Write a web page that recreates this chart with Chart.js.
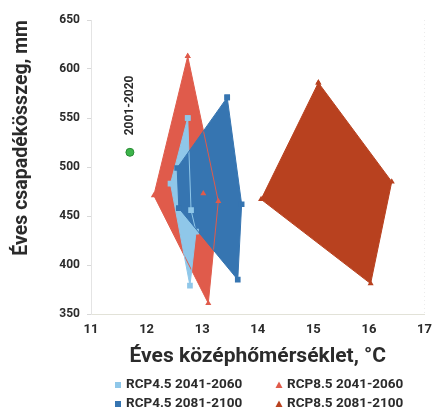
<!DOCTYPE html>
<html><head><meta charset="utf-8">
<script src="https://cdn.jsdelivr.net/npm/chart.js@4.4.1/dist/chart.umd.min.js"></script>
<style>html,body{margin:0;padding:0;background:#fff}#wrap{width:440px;height:412px;position:relative}</style>
</head><body><div id="wrap"><canvas id="c" width="440" height="412"></canvas></div>
<script>
const xTicks = [11, 12, 13, 14, 15, 16, 17];
const yTicks = [350, 400, 450, 500, 550, 600, 650];
const xTitle = 'Éves középhőmérséklet, °C';
const yTitle = 'Éves csapadékösszeg, mm';
const seriesNames = ['RCP4.5 2041-2060', 'RCP4.5 2081-2100', 'RCP8.5 2041-2060', 'RCP8.5 2081-2100'];
const rcp45_2041_temp = [12.74, 12.80, 12.89, 12.78, 12.43];
const rcp45_2041_prec = [550, 456, 434, 379, 483];
const rcp45_2081_temp = [13.45, 13.71, 13.64, 12.58, 12.55];
const rcp45_2081_prec = [571, 462, 385, 458, 499];
const rcp85_2041_temp = [12.74, 13.29, 13.11, 12.13];
const rcp85_2041_prec = [613, 465, 361, 471];
const rcp85_2041_inner_temp = [13.02];
const rcp85_2041_inner_prec = [473];
const rcp85_2081_temp = [15.09, 16.41, 16.03, 14.06];
const rcp85_2081_prec = [586, 485, 381, 467];
const base_temp = [11.70];
const base_prec = [515];
const baseLabel = '2001-2020';

const COLORS = {
  lb: '#8fc7e9', db: '#3675b1', lr: '#e05b4b', dr: '#b8411f', green: '#3cb44a'
};
const FONT = 'Roboto, "Open Sans", sans-serif';
const TXT = '#2b2b2b';

function poly(ts, ps) {
  const d = ts.map((t, i) => ({x: t, y: ps[i]}));
  d.push({x: ts[0], y: ps[0]});
  return d;
}
function pts(ts, ps) { return ts.map((t, i) => ({x: t, y: ps[i]})); }

function polyDs(label, data, color, style, r) {
  return {
    label, data, showLine: true, fill: 'shape', tension: 0,
    backgroundColor: color, borderColor: color, borderWidth: 1,
    pointStyle: style, pointRadius: r, pointBackgroundColor: color, pointBorderColor: color, pointBorderWidth: 0
  };
}

const datasets = [
  {label: baseLabel, data: pts(base_temp, base_prec), pointRadius: 4, pointBackgroundColor: COLORS.green,
   pointBorderColor: '#2a8c36', pointBorderWidth: 1, showLine: false},
  polyDs(seriesNames[3], poly(rcp85_2081_temp, rcp85_2081_prec), COLORS.dr, 'triangle', 3.5),
  {label: seriesNames[2] + ' inner', data: pts(rcp85_2041_inner_temp, rcp85_2041_inner_prec), showLine: false,
   pointStyle: 'triangle', pointRadius: 3.5, pointBackgroundColor: COLORS.lr, pointBorderWidth: 0},
  polyDs(seriesNames[1], poly(rcp45_2081_temp, rcp45_2081_prec), COLORS.db, 'rect', 4),
  polyDs(seriesNames[0], poly(rcp45_2041_temp, rcp45_2041_prec), COLORS.lb, 'rect', 4),
  polyDs(seriesNames[2], poly(rcp85_2041_temp, rcp85_2041_prec), COLORS.lr, 'triangle', 3.5)
];

const annot = {
  id: 'annot',
  afterDatasetsDraw(chart) {
    const ctx = chart.ctx;
    const x = chart.scales.x.getPixelForValue(base_temp[0]);
    const y = chart.scales.y.getPixelForValue(base_prec[0]);
    ctx.save();
    ctx.translate(x, y - 17);
    ctx.rotate(-Math.PI / 2);
    ctx.font = 'bold 12px ' + FONT;
    ctx.fillStyle = TXT;
    ctx.textAlign = 'left';
    ctx.textBaseline = 'middle';
    ctx.fillText(baseLabel, 0, 0);
    ctx.restore();
  },
  afterDraw(chart) {
    const ctx = chart.ctx;
    const items = [
      {text: seriesNames[0], color: COLORS.lb, style: 'rect', col: 0, row: 0},
      {text: seriesNames[2], color: COLORS.lr, style: 'triangle', col: 1, row: 0},
      {text: seriesNames[1], color: COLORS.db, style: 'rect', col: 0, row: 1},
      {text: seriesNames[3], color: COLORS.dr, style: 'triangle', col: 1, row: 1}
    ];
    const colX = [118, 279];
    const rowY = [385, 404];
    ctx.save();
    ctx.font = 'bold 13.5px ' + FONT;
    ctx.textBaseline = 'middle';
    ctx.textAlign = 'left';
    items.forEach(it => {
      const mx = colX[it.col], my = rowY[it.row];
      ctx.fillStyle = it.color;
      if (it.style === 'rect') {
        ctx.fillRect(mx - 3, my - 3, 6, 6);
      } else {
        ctx.beginPath();
        ctx.moveTo(mx, my - 3.5);
        ctx.lineTo(mx + 3.5, my + 3);
        ctx.lineTo(mx - 3.5, my + 3);
        ctx.closePath();
        ctx.fill();
      }
      ctx.fillStyle = TXT;
      ctx.fillText(it.text, mx + 8, my);
    });
    ctx.restore();
  }
};

new Chart(document.getElementById('c'), {
  type: 'scatter',
  data: {datasets},
  plugins: [annot],
  options: {
    responsive: false,
    animation: false,
    layout: {padding: {left: 0, right: 8, top: 20, bottom: 38}},
    plugins: {
      legend: {display: false},
      tooltip: {enabled: false},
      filler: {drawTime: 'beforeDatasetsDraw'}
    },
    scales: {
      x: {
        type: 'linear', min: xTicks[0], max: xTicks[xTicks.length - 1],
        afterBuildTicks: s => { s.ticks = xTicks.map(v => ({value: v})); },
        afterFit: s => { s.height = 60; },
        ticks: {color: TXT, font: {family: FONT, size: 13, weight: 'bold'}, padding: 8, maxRotation: 0},
        grid: {drawTicks: false, color: c => (c.tick && c.tick.value === 17 ? '#ececec' : 'rgba(0,0,0,0)')},
        border: {display: true, color: '#e2e2d8', dash: [1, 3]},
        title: {display: true, text: xTitle, color: TXT, font: {family: FONT, size: 21, weight: 'bold'}, padding: {top: 0, bottom: 5}}
      },
      y: {
        type: 'linear', min: yTicks[0], max: yTicks[yTicks.length - 1],
        afterBuildTicks: s => { s.ticks = yTicks.map(v => ({value: v})); },
        afterFit: s => { s.width = 91; },
        ticks: {color: TXT, font: {family: FONT, size: 12, weight: 'bold'}, padding: 7},
        grid: {drawOnChartArea: false, drawTicks: true, tickLength: 4, color: '#d8d8d8'},
        border: {display: true, color: '#e4e4e4'},
        title: {display: true, text: yTitle, align: 'end', color: TXT, font: {family: FONT, size: 19.5, weight: 'bold'}, padding: {top: 10, bottom: 0}}
      }
    }
  }
});
</script>
</body></html>
